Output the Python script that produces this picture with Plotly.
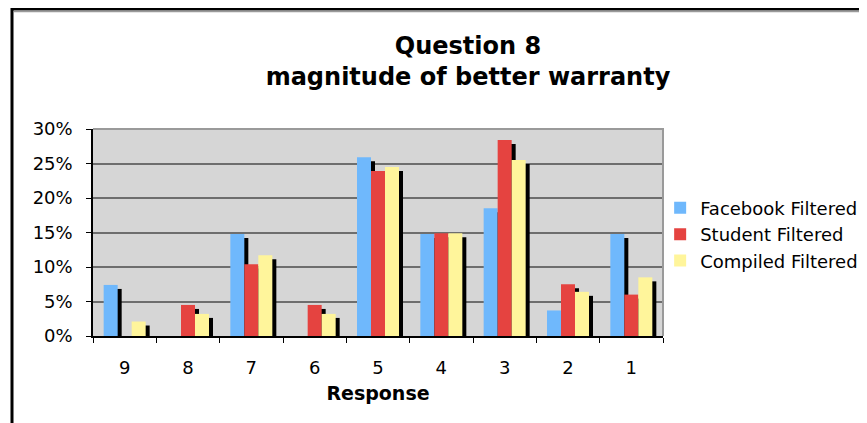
import plotly.graph_objects as go

categories = ["9", "8", "7", "6", "5", "4", "3", "2", "1"]
facebook = [0.074, 0.0, 0.148, 0.0, 0.259, 0.148, 0.185, 0.037, 0.148]
student = [0.0, 0.045, 0.104, 0.045, 0.239, 0.149, 0.284, 0.075, 0.060]
compiled = [0.021, 0.032, 0.117, 0.032, 0.245, 0.149, 0.255, 0.064, 0.085]

series = [
    ("Facebook Filtered", facebook, "#6fb8fc"),
    ("Student Filtered", student, "#e54340"),
    ("Compiled Filtered", compiled, "#fff59b"),
]

# page has an 8px body margin; figure coordinates = page - 8
W, H = 859, 415
L, T = 85, 121
plot_w = 570
plot_h = 207
R = W - L - plot_w
B = H - T - plot_h
ymax = 0.30
cat_px = plot_w / len(categories)
bar_w = 14 / cat_px
shadow_dx = 4 / cat_px
shadow_dy = 4 / plot_h * ymax

fig = go.Figure()
for i, (name, vals, color) in enumerate(series):
    off = -1.5 * bar_w + i * bar_w
    shadow = [max(v - shadow_dy, 0) if v > 0 else 0 for v in vals]
    fig.add_trace(go.Bar(x=categories, y=shadow, width=bar_w, offset=off + shadow_dx,
                         marker=dict(color="black", line=dict(width=0)),
                         showlegend=False, hoverinfo="skip"))
    fig.add_trace(go.Bar(x=categories, y=vals, width=bar_w, offset=off, name=name,
                         marker=dict(color=color, line=dict(width=0))))

fig.update_layout(
    width=W, height=H,
    margin=dict(l=L, r=R, t=T, b=B, autoexpand=False),
    barmode="overlay",
    paper_bgcolor="white",
    plot_bgcolor="#d6d6d6",
    font=dict(family="DejaVu Sans, Verdana, sans-serif", color="black", size=18),
    title=dict(text="<b>Question 8<br>magnitude of better warranty</b>",
               x=(468 - 8) / W, xanchor="center", y=1 - 46 / H, yanchor="middle",
               font=dict(size=24, color="black")),
    legend=dict(x=0.995, xanchor="left", y=0.49, yanchor="middle",
                font=dict(size=18), bgcolor="rgba(0,0,0,0)", traceorder="normal",
                tracegroupgap=0),
    xaxis=dict(type="category", categoryorder="array", categoryarray=categories,
               showline=True, linecolor="black", linewidth=1.5,
               ticks="outside", tickson="boundaries", ticklen=5, tickcolor="black",
               ticklabelstandoff=15,
               showgrid=False, title=dict(text="<b>Response</b>", font=dict(size=19), standoff=9),
               tickfont=dict(size=18), range=[-0.5, 8.5]),
    yaxis=dict(range=[0, ymax], dtick=0.05, tickformat=".0%",
               showline=True, linecolor="black", linewidth=1.5,
               ticks="outside", ticklen=5, tickcolor="black",
               ticklabelstandoff=10,
               showgrid=True, gridcolor="#6e6e6e", gridwidth=1.5,
               zeroline=False, tickfont=dict(size=18)),
)

# plot area border (top and right, gray)
fig.add_shape(type="path", xref="paper", yref="paper",
              path="M 0,1 L 1,1 L 1,0", line=dict(color="#9a9a9a", width=2), layer="above")

# outer frame
fx = (4 - L) / plot_w
fy_top = (H - B - 1) / plot_h
fy_bot = -(B + 10) / plot_h
fx_right = (W + 10 - L) / plot_w
fig.add_shape(type="path", xref="paper", yref="paper",
              path=f"M {fx},{fy_bot} L {fx},{fy_top} L {fx_right},{fy_top}",
              line=dict(color="black", width=3))
fig.add_shape(type="line", xref="paper", yref="paper",
              x0=fx + 2 / plot_w, x1=fx_right, y0=fy_top - 2.5 / plot_h, y1=fy_top - 2.5 / plot_h,
              line=dict(color="#9a9a9a", width=1.5))

fig.write_html("out.html")
